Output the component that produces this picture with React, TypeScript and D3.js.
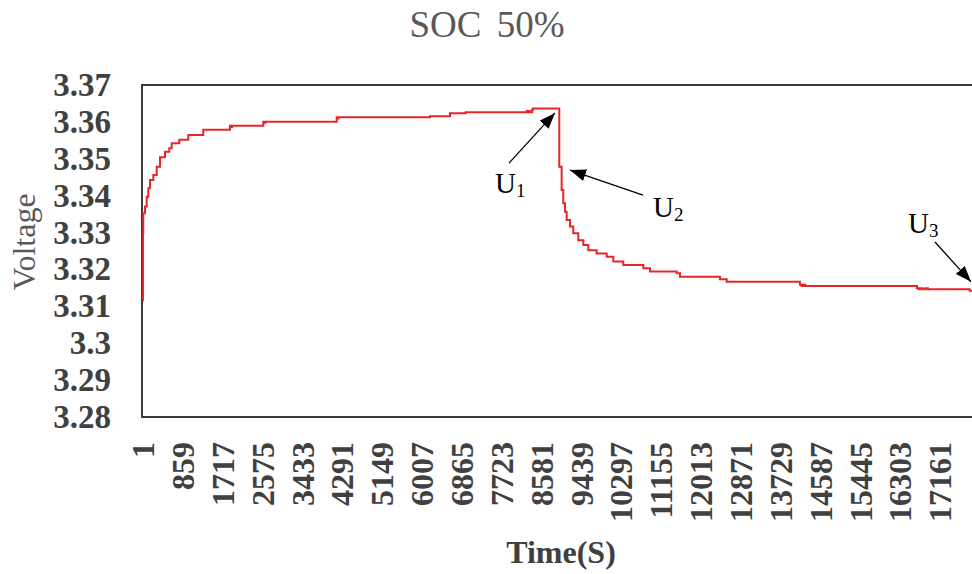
import React from "react";
import * as d3 from "d3";

const W = 972;
const H = 574;

// Time (s) and voltage readings of the relaxation curve
const times = [
  1, 2, 7, 44, 81, 115, 152, 223, 296, 367, 475, 567, 619, 782, 976, 1299, 1874, 1900, 1920,
  2591, 2610, 2640, 4171, 4190, 4210, 4240, 6180, 6611, 6950, 8262, 8280, 8300, 8330, 8380,
  8400, 8943,
  8964, 9015, 9050, 9087, 9123, 9194, 9265, 9373, 9481, 9589, 9769, 9985, 10127, 10342,
  10773, 10917, 11492, 11563, 12424, 12568, 14146, 14180, 14220, 14260, 14300, 16665, 16700,
  16740, 16790, 16850, 16900, 17800, 18100,
];
const voltages = [
  3.3115, 3.3297, 3.3351, 3.3369, 3.3396, 3.3419, 3.3441, 3.3455, 3.3477, 3.3503, 3.3518, 3.3527,
  3.3541, 3.355, 3.3563, 3.3577, 3.3588, 3.3585, 3.3588,
  3.3599, 3.3596, 3.3599, 3.3611, 3.3608, 3.3611, 3.3611, 3.3614, 3.3622, 3.3625, 3.3628, 3.3625,
  3.3628, 3.3625, 3.3632, 3.3635, 3.3635,
  3.3477, 3.3414, 3.3378, 3.3355, 3.3333, 3.3315, 3.3297, 3.3278, 3.3265, 3.3251, 3.3242, 3.3233,
  3.322, 3.3211, 3.3202, 3.3193, 3.3188, 3.3179, 3.3172, 3.3165, 3.3157, 3.3154, 3.3157, 3.3154,
  3.3154, 3.3148, 3.3145, 3.3148, 3.3145, 3.3148, 3.3145, 3.3141, 3.3141,
];

const yTicks = [3.28, 3.29, 3.3, 3.31, 3.32, 3.33, 3.34, 3.35, 3.36, 3.37];
const xTicks = [
  1, 859, 1717, 2575, 3433, 4291, 5149, 6007, 6865, 7723, 8581, 9439, 10297, 11155,
  12013, 12871, 13729, 14587, 15445, 16303, 17161,
];

const title = "SOC 50%";
const yTitle = "Voltage";
const xTitle = "Time(S)";

// Annotations: label, subscript, arrow start (time, voltage), arrow end (time, voltage), label anchor
const annLabels = ["U", "U", "U"];
const annSubs = ["1", "2", "3"];
const annFrom: [number, number][] = [
  [7881, 3.3487],
  [10766, 3.34],
  [17053, 3.3273],
];
const annTo: [number, number][] = [
  [8871, 3.3623],
  [9194, 3.3468],
  [17828, 3.3165],
];
const annPos: [number, number][] = [
  [7580, 3.3406],
  [10981, 3.3341],
  [16471, 3.3297],
];

const serif = "'Liberation Serif', 'Times New Roman', serif";

export default function App() {
  const left = 142;
  const top = 85;
  const bottom = 417;

  const x = d3.scaleLinear().domain([1, 17161]).range([143, 940]);
  const y = d3.scaleLinear().domain([3.28, 3.37]).range([416.5, 84.5]);

  const data = times.map((t, i) => [t, voltages[i]] as [number, number]);
  const line = d3
    .line<[number, number]>()
    .x((d) => x(d[0]))
    .y((d) => y(d[1]))
    .curve(d3.curveStepAfter);

  return (
    <svg width={W} height={H} style={{ display: "block", position: "absolute", left: 0, top: 0, background: "#fff" }}>
      <defs>
        <marker id="arrB" viewBox="0 0 16 12" refX="16" refY="6" markerWidth="16" markerHeight="12" orient="auto" markerUnits="userSpaceOnUse">
          <path d="M0,0 L16,6 L0,12 z" fill="#000" />
        </marker>
      </defs>

      <text x={487} y={37} textAnchor="middle" fontFamily={serif} fontSize={37} fill="#595959" style={{ wordSpacing: "6px" }}>
        {title}
      </text>

      {/* frame */}
      <path d={`M${W + 20},${top} L${left},${top} L${left},${bottom} L${W + 20},${bottom}`} fill="none" stroke="#3a3a3a" strokeWidth={2} />

      {/* y tick labels */}
      {yTicks.map((v) => (
        <text key={v} x={111} y={y(v)} dy="0.35em" textAnchor="end" fontFamily={serif} fontWeight="bold" fontSize={33} fill="#404040">
          {d3.format("")(+v.toFixed(2))}
        </text>
      ))}

      <text transform={`translate(35,242) rotate(-90)`} textAnchor="middle" fontFamily={serif} fontSize={32} fill="#595959">
        {yTitle}
      </text>

      {/* x tick labels */}
      {xTicks.map((t) => (
        <text key={t} transform={`translate(${x(t)},442) rotate(-90)`} dy="0.35em" textAnchor="end" fontFamily={serif} fontWeight="bold" fontSize={32} fill="#404040">
          {t}
        </text>
      ))}

      <text x={561} y={563} textAnchor="middle" fontFamily={serif} fontWeight="bold" fontSize={32} fill="#404040">
        {xTitle}
      </text>

      {/* data line */}
      <path d={line(data) || ""} fill="none" stroke="#e8262a" strokeWidth={2} />

      {/* annotations */}
      {annLabels.map((l, i) => (
        <g key={i}>
          <line
            x1={x(annFrom[i][0])}
            y1={y(annFrom[i][1])}
            x2={x(annTo[i][0])}
            y2={y(annTo[i][1])}
            stroke="#000"
            strokeWidth={1.3}
            markerEnd="url(#arrB)"
          />
          <text x={x(annPos[i][0])} y={y(annPos[i][1])} fontFamily={serif} fontSize={29} fill="#000">
            {l}
            <tspan fontSize={19} dy={4}>
              {annSubs[i]}
            </tspan>
          </text>
        </g>
      ))}
    </svg>
  );
}
